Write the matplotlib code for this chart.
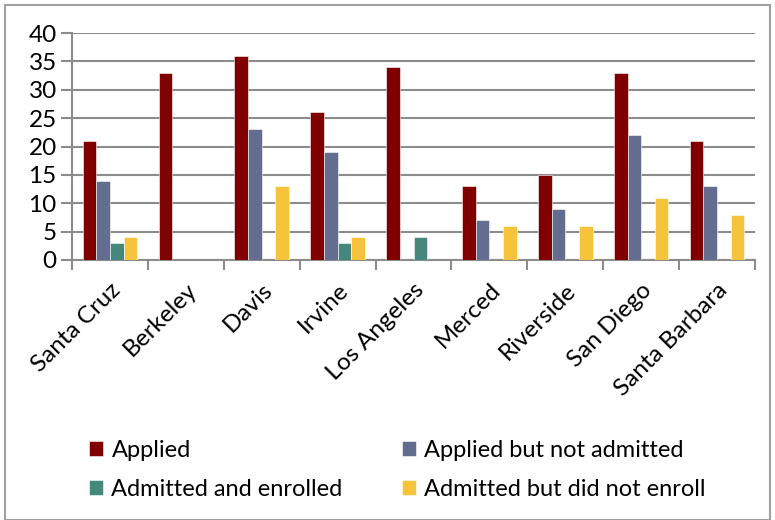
import numpy as np
import matplotlib.pyplot as plt
from matplotlib.patches import Rectangle

campuses = ['Santa Cruz', 'Berkeley', 'Davis', 'Irvine', 'Los Angeles',
            'Merced', 'Riverside', 'San Diego', 'Santa Barbara']
applied = [21, 33, 36, 26, 34, 13, 15, 33, 21]
not_admitted = [14, 0, 23, 19, 0, 7, 9, 22, 13]
enrolled = [3, 0, 0, 3, 4, 0, 0, 0, 0]
not_enrolled = [4, 0, 13, 4, 0, 6, 6, 11, 8]

series = [
    ('Applied', applied, '#800000'),
    ('Applied but not admitted', not_admitted, '#626d8f'),
    ('Admitted and enrolled', enrolled, '#45877a'),
    ('Admitted but did not enroll', not_enrolled, '#f5c43c'),
]

plt.rcParams['font.family'] = ['Lato', 'DejaVu Sans']

fig = plt.figure(figsize=(7.75, 5.2), dpi=100)
ax = fig.add_axes([72 / 775, 1 - 260 / 520, 683 / 775, 227 / 520])

x = np.arange(len(campuses))
width = 0.18
bars = []
for i, (name, vals, color) in enumerate(series):
    b = ax.bar(x + (i - 1.5) * width, vals, width, color=color, label=name,
               edgecolor='white', linewidth=0.4, zorder=3)
    bars.append(b)

ax.set_xlim(-0.5, len(campuses) - 0.5)
ax.set_ylim(0, 40)
ax.set_yticks(range(0, 41, 5))
ax.tick_params(axis='y', labelsize=17.5, length=8, color='#8c8c8c', width=1.5, pad=3)
ax.yaxis.grid(True, color='#8c8c8c', linewidth=1.5, zorder=0)

ax.set_xticks(np.arange(-0.5, len(campuses), 1))
ax.set_xticklabels([])
ax.tick_params(axis='x', length=7, color='#8c8c8c', width=1.5)
ax.set_xticks(x, minor=True)
ax.set_xticklabels(campuses, minor=True, rotation=45, ha='right',
                   rotation_mode='anchor', fontsize=17.5)
ax.tick_params(axis='x', which='minor', length=0, pad=14)

for side in ['top', 'right']:
    ax.spines[side].set_visible(False)
for side in ['left', 'bottom']:
    ax.spines[side].set_color('#8c8c8c')
    ax.spines[side].set_linewidth(1.5)

# legend fills row by row: Applied / Applied but not admitted on top
order = [0, 2, 1, 3]
fig.legend([bars[k] for k in order], [series[k][0] for k in order],
           loc='lower left', bbox_to_anchor=(89 / 775, 20 / 520), ncol=2,
           frameon=False, fontsize=17, handlelength=0.6, handleheight=0.6,
           handletextpad=0.35, columnspacing=2.5, labelspacing=0.75,
           borderpad=0, borderaxespad=0)

fig.patches.append(Rectangle((5 / 775, 0), 765 / 775, 1 - 5 / 520,
                             transform=fig.transFigure, fill=False,
                             edgecolor='#a0a0a0', linewidth=1.5))

fig.savefig('out.png', dpi=100)
